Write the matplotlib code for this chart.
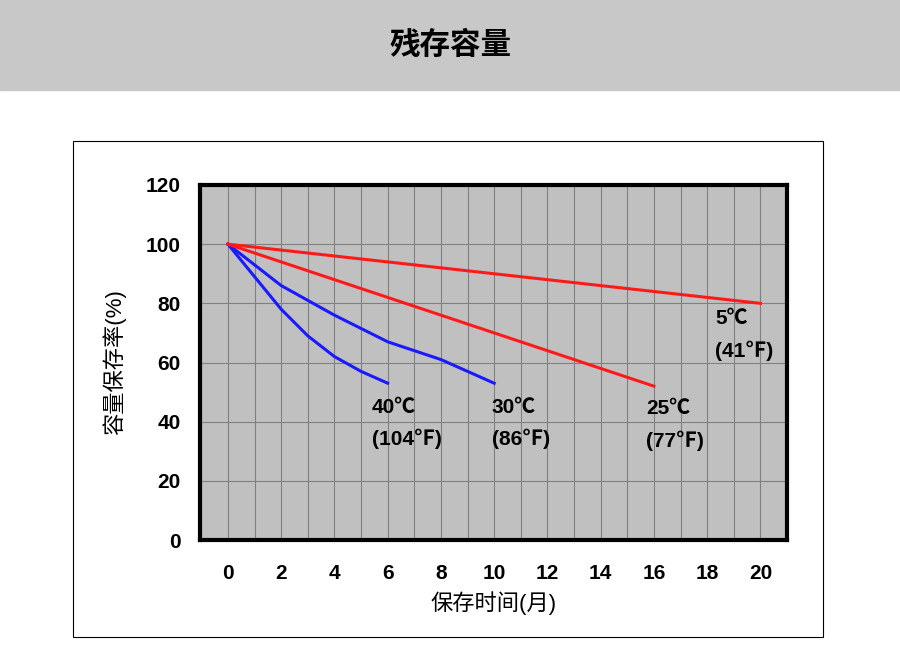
import matplotlib.pyplot as plt
from matplotlib.patches import Rectangle

plt.rcParams['font.family'] = ['Liberation Sans', 'Noto Sans CJK SC', 'DejaVu Sans']

m40 = [0, 1, 2, 3, 4, 5, 6]
v40 = [100, 89, 78, 69, 62, 57, 53]
m30 = [0, 2, 4, 6, 8, 10]
v30 = [100, 86, 76, 67, 61, 53]
m25 = [0, 16]
v25 = [100, 52]
m5 = [0, 20]
v5 = [100, 80]

fig = plt.figure(figsize=(9, 6.56), dpi=100)
fig.patches.append(Rectangle((0, 1 - 90 / 656), 1, 90 / 656, transform=fig.transFigure,
                             color='#c8c8c8', zorder=0))
fig.text(0.5, 1 - 45 / 656, '残存容量', ha='center', va='center', fontsize=22,
         fontweight='bold', family=['Noto Sans CJK SC'])
fig.patches.append(Rectangle((73 / 900, 1 - 637 / 656), 750 / 900, 496 / 656,
                             transform=fig.transFigure, fill=False, ec='black', lw=0.8))

ax = fig.add_axes([200 / 900, 1 - 540 / 656, 587 / 900, 355 / 656])
ax.set_facecolor('#c0c0c0')
ax.plot(m40, v40, color='#1a1aff', lw=2.2)
ax.plot(m30, v30, color='#1a1aff', lw=2.2)
ax.plot(m25, v25, color='#ff1a1a', lw=2.2)
ax.plot(m5, v5, color='#ff1a1a', lw=2.2)

ax.set_xlim(-1.05, 21)
ax.set_ylim(0, 120)
ax.set_xticks(range(0, 21, 2))
ax.set_xticks(range(-1, 21), minor=True)
ax.set_yticks(range(0, 121, 20))
ax.grid(True, which='both', axis='x', color='#808080', lw=0.8)
ax.grid(True, axis='y', color='#808080', lw=0.8)
ax.set_axisbelow(True)
ax.tick_params(which='both', length=0, labelsize=15)
ax.tick_params(axis='x', pad=17)
ax.tick_params(axis='y', pad=14)
for lab in ax.get_xticklabels() + ax.get_yticklabels():
    lab.set_fontweight('bold')
for s in ax.spines.values():
    s.set_linewidth(3)

kw = dict(fontsize=15, fontweight='bold')
ax.text(5.4, 43, '40℃', **kw)
ax.text(5.4, 32, '(104℉)', **kw)
ax.text(9.9, 43, '30℃', **kw)
ax.text(9.9, 32, '(86℉)', **kw)
ax.text(15.7, 42.5, '25℃', **kw)
ax.text(15.7, 31.5, '(77℉)', **kw)
ax.text(18.3, 73, '5℃', **kw)
ax.text(18.3, 62, '(41℉)', **kw)

ax.set_ylabel('容量保存率(%)', fontsize=16, labelpad=14)
ax.set_xlabel('保存时间(月)', fontsize=16, labelpad=6)

fig.savefig('out.png')
